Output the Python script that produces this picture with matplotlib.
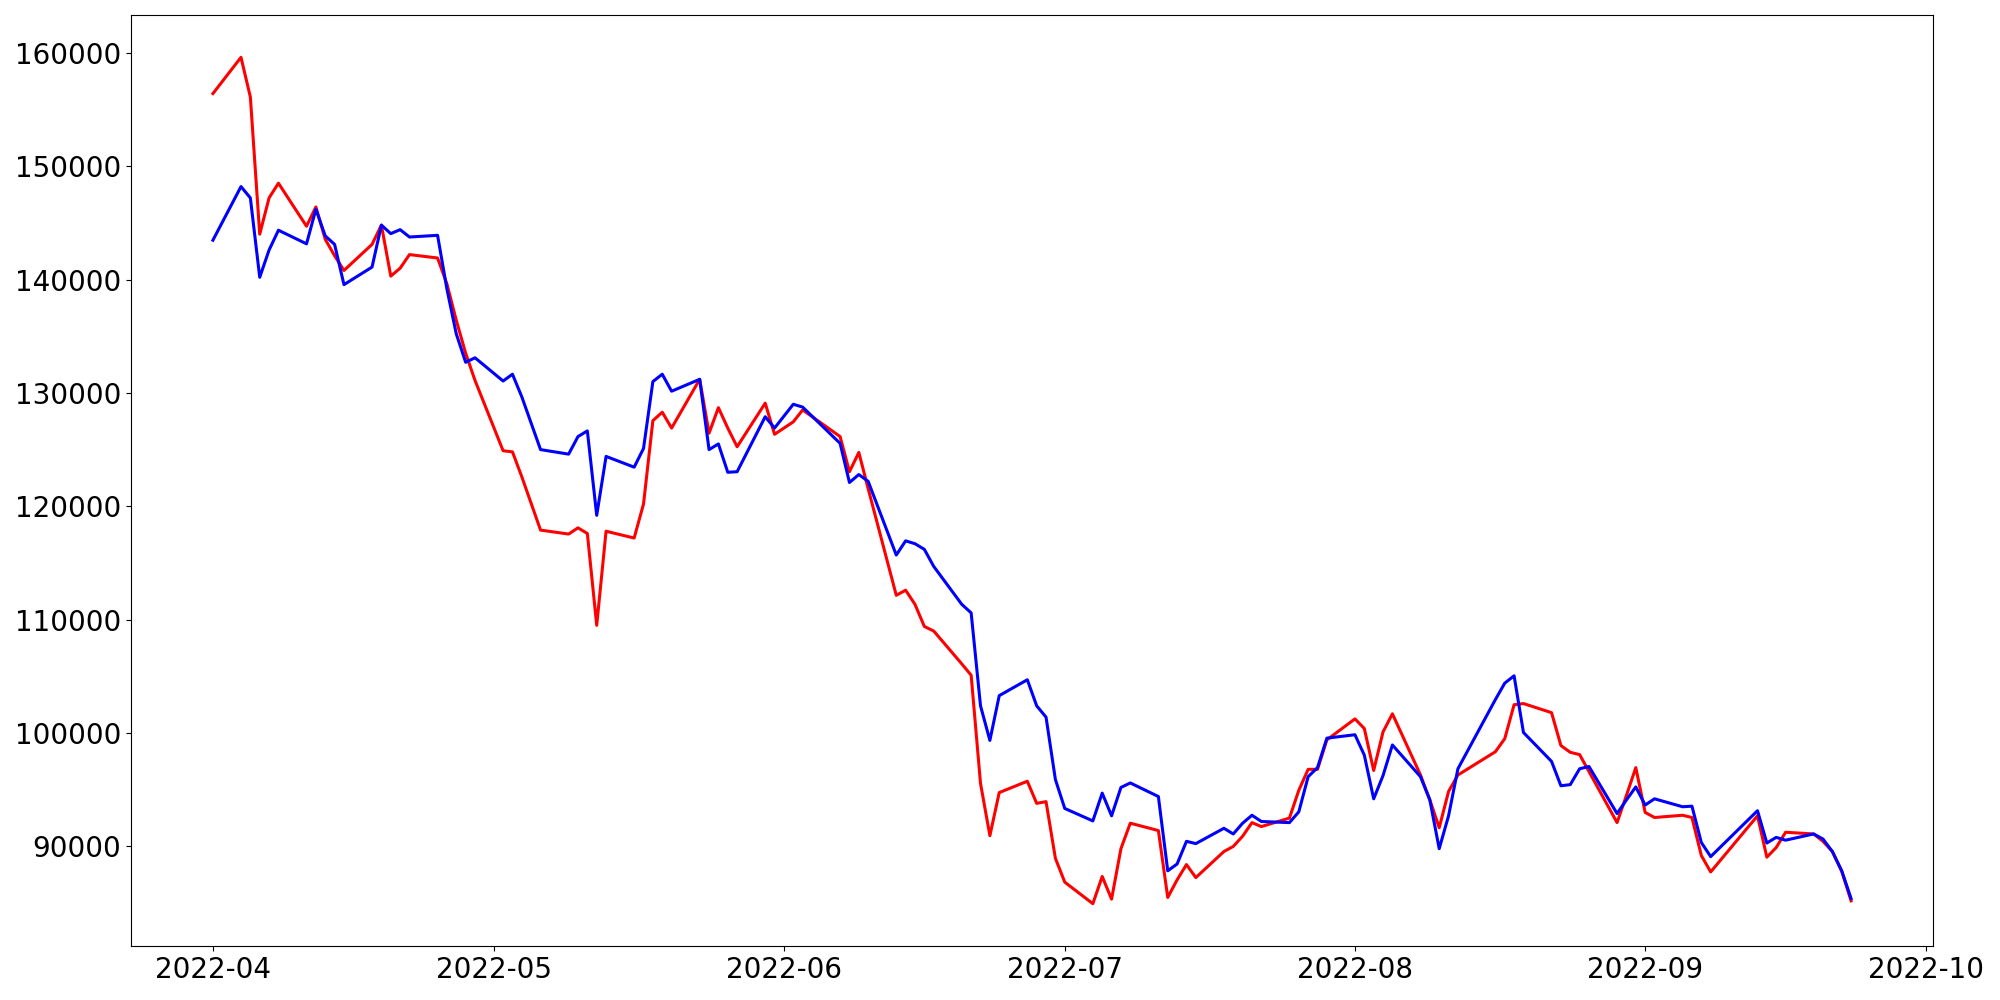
import pandas as pd
import matplotlib
matplotlib.use("Agg")
import matplotlib.pyplot as plt

# trading days (KRX), Apr 1 - Sep 23 2022
holidays = ["2022-05-05", "2022-06-01", "2022-06-06",
            "2022-08-15", "2022-09-09", "2022-09-12"]
dates = pd.bdate_range("2022-04-01", "2022-09-23", freq="C", holidays=holidays)

red_vals = [
    # April
    156400, 159600, 156100, 144000, 147200, 148500, 144700, 146400, 143550, 142100,
    140800, 143100, 144800, 140300, 141000, 142200, 141900, 139600, 136400, 133500,
    131100,
    # May
    124900, 124800, 122600, 117900, 117550, 118100, 117600, 109500, 117800, 117200,
    120200, 127550, 128300, 126900, 131200, 126450, 128700, 126900, 125250, 129100,
    126350,
    # June
    127450, 128500, 126150, 123050, 124750, 121550, 112150, 112600, 111350, 109400,
    109000, 106100, 105100, 95550, 90950, 94750, 95750, 93800, 93950, 88950,
    # July
    86850, 84950, 87350, 85350, 89800, 92050, 91400, 85500, 87050, 88400,
    87250, 89550, 90000, 90900, 92100, 91750, 92500, 94950, 96800, 96800,
    99400,
    # August
    101250, 100400, 96700, 100100, 101700, 96300, 94100, 91650, 94850, 96300,
    98350, 99500, 102500, 102600, 101800, 98900, 98300, 98100, 96600, 92100,
    94500, 96950,
    # September
    93000, 92550, 92750, 92550, 89200, 87750, 92700, 89050, 89900, 91250,
    91100, 90450, 89550, 87800, 85200,
]

blue_vals = [
    # April
    143470, 148200, 147200, 140200, 142600, 144350, 143150, 146200, 143850, 143100,
    139550, 141100, 144800, 144050, 144400, 143750, 143900, 139150, 135200, 132700,
    133100,
    # May
    131050, 131650, 129650, 125000, 124600, 126150, 126650, 119200, 124400, 123450,
    125100, 131000, 131650, 130150, 131200, 125000, 125500, 123000, 123050, 127900,
    126900,
    # June
    129000, 128750, 125550, 122100, 122800, 122200, 115700, 116950, 116700, 116200,
    114700, 111350, 110600, 102400, 99350, 103300, 104700, 102400, 101400, 95900,
    # July
    93350, 92250, 94700, 92700, 95200, 95600, 94400, 87850, 88450, 90450,
    90250, 91600, 91100, 92050, 92750, 92200, 92100, 93050, 96150, 96950,
    99550,
    # August
    99850, 98050, 94200, 96250, 98950, 96150, 94100, 89800, 92700, 96850,
    102950, 104400, 105050, 100050, 97500, 95350, 95450, 96850, 97050, 92900,
    94100, 95250,
    # September
    93650, 94200, 93500, 93550, 90350, 89100, 93150, 90300, 90800, 90550,
    91100, 90650, 89550, 87850, 85400,
]

fig, ax = plt.subplots(figsize=(20, 10), dpi=100)

ax.plot(dates, red_vals, color="red", linewidth=2.2)
ax.plot(dates, blue_vals, color="blue", linewidth=2.2)

ax.tick_params(axis="both", labelsize=20)

plt.subplots_adjust(left=0.0655, right=0.9665, bottom=0.054, top=0.985)

plt.savefig("out.png", dpi=100)
